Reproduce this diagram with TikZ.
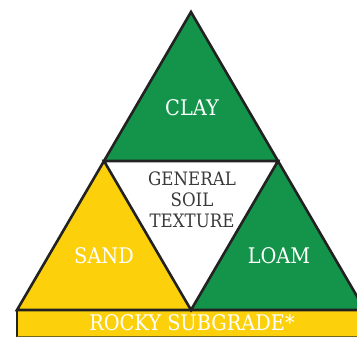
\documentclass[tikz,border=0pt]{standalone}
\usepackage{fontspec}
\setmainfont{DejaVu Serif Condensed}
\usetikzlibrary{calc}
\definecolor{SoilGreen}{HTML}{14944A}
\definecolor{SoilYellow}{HTML}{FCD10C}
\definecolor{SoilInk}{HTML}{222222}
\definecolor{SoilText}{HTML}{3A3A3A}
\tikzset{
  every node/.style={inner sep=0pt},
  piece/.style={draw=SoilInk, line width=2.6pt, line join=miter},
  bar/.style={fill=SoilYellow},
  label/.style={text=white, font=\fontsize{21.5}{22}\selectfont},
  core/.style={text=SoilText, font=\fontsize{18.5}{21}\selectfont, align=center},
}

\begin{document}
\begin{tikzpicture}[x=1pt,y=-1pt]
  \useasboundingbox (0,0) rectangle (357,337);
  \clip (0,0) rectangle (357,337);
  % Corners of the big triangle and its edge midpoints
  \coordinate (apex) at (191,12);
  \coordinate (lb) at (17,310);
  \coordinate (rb) at (365,310);
  \coordinate (lm) at ($(apex)!0.5!(lb)$);
  \coordinate (rm) at ($(apex)!0.5!(rb)$);
  \coordinate (bm) at ($(lb)!0.5!(rb)$);
  % Rocky subgrade strip
  \fill[bar] (lb) rectangle (372,336);
  \draw[SoilInk, line width=2pt] ([yshift=-1pt]lb) -- (17,337);
  \draw[SoilInk!60!SoilYellow, line width=0.8pt] (17,336) -- (372,336);
  % Four sub-triangles
  \fill[SoilGreen] (apex) -- (lm) -- (rm) -- cycle;
  \fill[SoilYellow] (lm) -- (lb) -- (bm) -- cycle;
  \fill[SoilGreen] (rm) -- (bm) -- (rb) -- cycle;
  \fill[white] (lm) -- (rm) -- (bm) -- cycle;
  % Outlines
  \draw[piece] (apex) -- (lb) -- (rb) -- cycle;
  \draw[piece] (lm) -- (rm) -- (bm) -- cycle;
  % Labels
  \node[label] (clay) at (192,108) {CLAY};
  \node[label] (sand) at (104,256) {SAND};
  \node[label] (loam) at (279,256) {LOAM};
  \node[core] (texture) at (192,200) {GENERAL\\SOIL\\TEXTURE};
  \node[label] (rocky) at (192,323) {ROCKY SUBGRADE*};
\end{tikzpicture}
\end{document}
